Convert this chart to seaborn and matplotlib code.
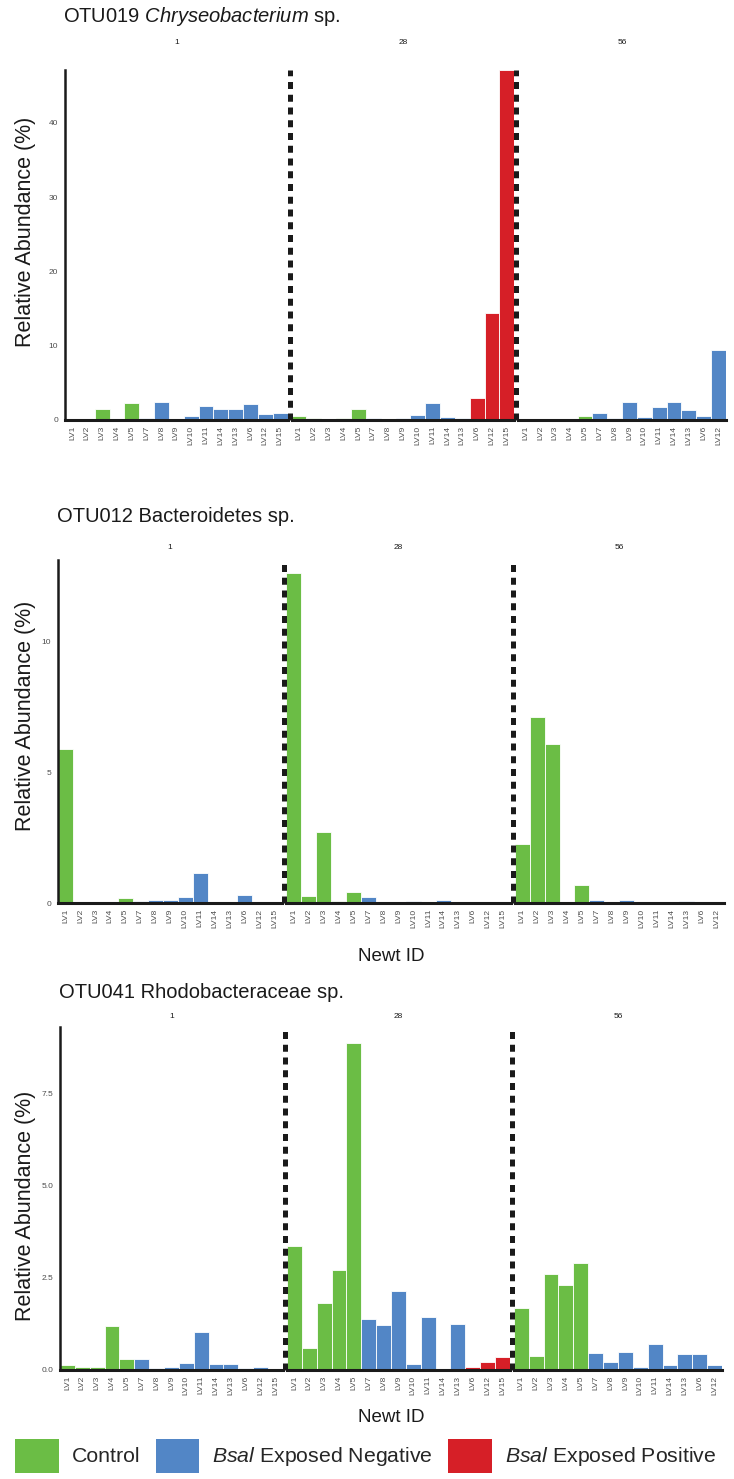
import matplotlib
matplotlib.use("Agg")
import matplotlib.pyplot as plt
import matplotlib.transforms as mtransforms
import seaborn as sns
import pandas as pd
from matplotlib.patches import Patch

sns.set_theme(style="white")
plt.rcParams['font.family'] = ['Liberation Sans', 'DejaVu Sans']
plt.rcParams['mathtext.fontset'] = 'custom'
plt.rcParams['mathtext.it'] = 'Liberation Sans:italic'
plt.rcParams['mathtext.rm'] = 'Liberation Sans'

# ---------------- data ----------------
DAYS = ["1", "28", "56"]
NEWTS_D1 = ["LV1", "LV2", "LV3", "LV4", "LV5", "LV7", "LV8", "LV9", "LV10",
            "LV11", "LV14", "LV13", "LV6", "LV12", "LV15"]
NEWTS_D28 = ["LV1", "LV2", "LV3", "LV4", "LV5", "LV7", "LV8", "LV9", "LV10",
             "LV11", "LV14", "LV13", "LV6", "LV12", "LV15"]
NEWTS_D56 = ["LV1", "LV2", "LV3", "LV4", "LV5", "LV7", "LV8", "LV9", "LV10",
             "LV11", "LV14", "LV13", "LV6", "LV12"]

C, N, P = "Control", "Bsal Exposed Negative", "Bsal Exposed Positive"
GROUP_D1 = [C, C, C, C, C, N, N, N, N, N, N, N, N, N, N]
GROUP_D28 = [C, C, C, C, C, N, N, N, N, N, N, N, P, P, P]
GROUP_D56 = [C, C, C, C, C, N, N, N, N, N, N, N, N, N]

# OTU019 Chryseobacterium sp.
OTU019_D1 = [0.15, 0.15, 1.5, 0.15, 2.3, 0.3, 2.4, 0.15, 0.55, 1.9, 1.5, 1.5, 2.15, 0.8, 0.95]
OTU019_D28 = [0.55, 0.3, 0.1, 0.3, 1.5, 0.3, 0.15, 0.3, 0.7, 2.3, 0.4, 0.3, 3.0, 14.4, 47.1]
OTU019_D56 = [0.1, 0.1, 0.1, 0.1, 0.55, 0.95, 0.3, 2.4, 0.4, 1.75, 2.4, 1.35, 0.55, 9.4]

# OTU012 Bacteroidetes sp.
OTU012_D1 = [5.9, 0.02, 0.02, 0.04, 0.18, 0.06, 0.1, 0.1, 0.22, 1.13, 0.03, 0.02, 0.29, 0.01, 0.03]
OTU012_D28 = [12.6, 0.25, 2.7, 0.06, 0.41, 0.22, 0.03, 0.01, 0.06, 0.02, 0.1, 0.01, 0.02, 0.04, 0.04]
OTU012_D56 = [2.24, 7.1, 6.07, 0.03, 0.67, 0.1, 0.03, 0.1, 0.04, 0.02, 0.02, 0.06, 0.02, 0.02]

# OTU041 Rhodobacteraceae sp.
OTU041_D1 = [0.135, 0.08, 0.08, 1.19, 0.3, 0.3, 0.05, 0.08, 0.19, 1.03, 0.16, 0.16, 0.05, 0.08, 0.01]
OTU041_D28 = [3.38, 0.6, 1.81, 2.71, 8.89, 1.38, 1.22, 2.14, 0.16, 1.43, 0.03, 1.25, 0.08, 0.22, 0.35]
OTU041_D56 = [1.68, 0.38, 2.6, 2.3, 2.9, 0.46, 0.22, 0.49, 0.08, 0.7, 0.14, 0.43, 0.43, 0.14]

GROUPS = [C, N, P]
PALETTE = {C: "#6BBD45", N: "#5286C6", P: "#D61F27"}
LEGEND_LABELS = ["Control", "$\\it{Bsal}$ Exposed Negative", "$\\it{Bsal}$ Exposed Positive"]

# ---------------- layout ----------------
W, H = 734, 1479
fig = plt.figure(figsize=(W / 100, H / 100), dpi=100)


def fx(px):
    return px / W


def fy(py):
    return 1 - py / H


panels = [
    dict(title="OTU019 $\\it{Chryseobacterium}$ sp.",
         data=[OTU019_D1, OTU019_D28, OTU019_D56],
         ymax=47.1, yticks=[0, 10, 20, 30, 40], ylabels=["0", "10", "20", "30", "40"],
         left=65, right=726, top=70, bottom=420, title_y=17, strip_y=43,
         xlabel=False, title_x=63, ylab_y=232),
    dict(title="OTU012 Bacteroidetes sp.",
         data=[OTU012_D1, OTU012_D28, OTU012_D56],
         ymax=13.1, yticks=[0, 5, 10], ylabels=["0", "5", "10"],
         left=58, right=724, top=560, bottom=903, title_y=517, strip_y=547,
         xlabel=True, xlabel_y=956, title_x=57, ylab_y=716),
    dict(title="OTU041 Rhodobacteraceae sp.",
         data=[OTU041_D1, OTU041_D28, OTU041_D56],
         ymax=9.32, yticks=[0, 2.5, 5.0, 7.5], ylabels=["0.0", "2.5", "5.0", "7.5"],
         left=60, right=722, top=1027, bottom=1370, title_y=993, strip_y=1017,
         xlabel=True, xlabel_y=1417, title_x=59, ylab_y=1206),
]

newts_by_day = [NEWTS_D1, NEWTS_D28, NEWTS_D56]
groups_by_day = [GROUP_D1, GROUP_D28, GROUP_D56]
gap = 4
tick_color = "#4D4D4D"

for p in panels:
    counts = [len(n) for n in newts_by_day]
    per = (p["right"] - p["left"] - 2 * gap) / sum(counts)
    x0 = p["left"]
    for i, (day, newts, groups, vals) in enumerate(zip(DAYS, newts_by_day, groups_by_day, p["data"])):
        w = per * counts[i]
        ax = fig.add_axes([fx(x0), fy(p["bottom"]), fx(w), (p["bottom"] - p["top"]) / H])
        df = pd.DataFrame({"Newt": newts, "Abundance": vals, "Group": groups})
        sns.barplot(data=df, x="Newt", y="Abundance", hue="Group", order=newts,
                    hue_order=GROUPS, palette=PALETTE, dodge=False, width=1.0,
                    edgecolor="white", linewidth=0.6, saturation=1, errorbar=None,
                    legend=False, ax=ax)
        ax.set_xlim(-0.5, len(newts) - 0.5)
        ax.set_ylim(0, p["ymax"])
        ax.set_xlabel("")
        ax.set_ylabel("")
        ax.set_facecolor("none")
        ax.tick_params(axis="x", rotation=90, labelsize=6, labelcolor=tick_color,
                       length=0, pad=4)
        for s in ("top", "right"):
            ax.spines[s].set_visible(False)
        ax.spines["bottom"].set_color("#1A1A1A")
        ax.spines["bottom"].set_linewidth(2.2)
        if i == 0:
            ax.set_yticks(p["yticks"])
            ax.set_yticklabels(p["ylabels"])
            ax.tick_params(axis="y", labelsize=6, labelcolor=tick_color, length=0, pad=5)
            ax.spines["left"].set_color("#1A1A1A")
            ax.spines["left"].set_linewidth(1.8)
        else:
            ax.set_yticks([])
            ax.spines["left"].set_visible(False)
            # dashed separator between facets, centred in the gap
            trans = mtransforms.offset_copy(ax.get_xaxis_transform(), fig=fig,
                                            x=-gap / 2, y=0, units="dots")
            ax.plot([-0.5, -0.5], [0, 1], transform=trans, color="#1A1A1A",
                    lw=3.6, dashes=(1.4, 1.15), solid_capstyle="butt",
                    dash_capstyle="butt", clip_on=False, zorder=5)
        fig.text(fx(x0 + w / 2), fy(p["strip_y"]), day, fontsize=6, color="#1A1A1A",
                 ha="center", va="center")
        x0 += w + gap
    fig.text(fx(p["title_x"]), fy(p["title_y"]), p["title"], fontsize=14.5,
             color="#1A1A1A", ha="left", va="center")
    fig.text(fx(25), fy(p["ylab_y"]), "Relative Abundance (%)",
             rotation=90, fontsize=15.5, color="#1A1A1A", ha="center", va="center")
    if p["xlabel"]:
        fig.text(fx((p["left"] + p["right"]) / 2), fy(p["xlabel_y"]), "Newt ID",
                 fontsize=13.5, color="#1A1A1A", ha="center", va="center")

handles = [Patch(facecolor=PALETTE[g], edgecolor="none", label=l)
           for g, l in zip(GROUPS, LEGEND_LABELS)]
fig.legend(handles=handles, loc="upper left", bbox_to_anchor=(fx(15), fy(1439)),
           ncol=3, frameon=False, fontsize=15.3, handlelength=2.05, handleheight=2.05,
           handletextpad=0.62, columnspacing=0.72, borderpad=0, borderaxespad=0)

fig.savefig("out.png", dpi=100)
